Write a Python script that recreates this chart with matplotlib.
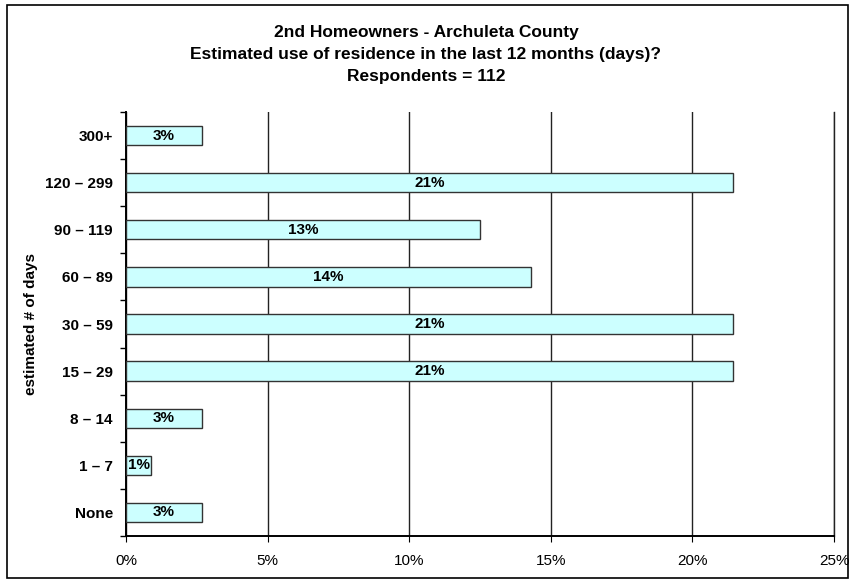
import matplotlib
matplotlib.use("Agg")
import matplotlib.pyplot as plt
from matplotlib.ticker import FixedLocator, FuncFormatter
import numpy as np

plt.rcParams['font.family'] = ['Liberation Sans', 'DejaVu Sans']

categories = ["None", "1 \u2013 7", "8 \u2013 14", "15 \u2013 29", "30 \u2013 59",
              "60 \u2013 89", "90 \u2013 119", "120 \u2013 299", "300+"]
percent_values = [2.68, 0.89, 2.68, 21.43, 21.43, 14.29, 12.50, 21.43, 2.68]
bar_labels = ["3%", "1%", "3%", "21%", "21%", "14%", "13%", "21%", "3%"]
x_ticks = [0, 5, 10, 15, 20, 25]

title_lines = ["2nd Homeowners - Archuleta County",
               "Estimated use of residence in the last 12 months (days)?",
               "Respondents = 112"]

W, H = 852, 580
fig = plt.figure(figsize=(W/100, H/100), dpi=100)
ax = fig.add_axes([126/W, 1-536/H, (834-126)/W, (536-112)/H])

y = np.arange(len(categories))
ax.barh(y, percent_values, height=0.41, color="#CCFFFF", edgecolor="#333333",
        linewidth=1.0, zorder=3)
for yi, v, lab in zip(y, percent_values, bar_labels):
    ax.text(v/2, yi, lab, ha="center", va="center", fontsize=11,
            fontweight="bold", zorder=4)

ax.set_xlim(0, 25)
ax.set_ylim(-0.5, len(categories)-0.5)
ax.set_xticks(x_ticks)
ax.xaxis.set_major_formatter(FuncFormatter(lambda v, p: f"{v:.0f}%"))
ax.xaxis.grid(True, color="#222222", linewidth=1.0, zorder=0)
ax.set_yticks(y)
ax.set_yticklabels(categories, fontweight="bold", fontsize=11)
ax.yaxis.set_minor_locator(FixedLocator(np.arange(-0.5, len(categories), 1.0)))
ax.tick_params(axis="y", which="major", length=0, pad=9.5)
ax.tick_params(axis="y", which="minor", length=4, direction="out", width=1)
ax.tick_params(axis="x", length=4, direction="out", labelsize=11, pad=9)
ax.spines["top"].set_visible(False)
ax.spines["right"].set_color("#222222")
ax.spines["right"].set_linewidth(1.0)
for s in ["left", "bottom"]:
    ax.spines[s].set_linewidth(1.4)

ax.set_ylabel("estimated # of days", fontweight="bold", fontsize=11)
ax.yaxis.set_label_coords(-(126-38)/708, 0.5)

for line, yc in zip(title_lines, [32.5, 54, 76]):
    fig.text(0.5, 1-yc/H, line, ha="center", va="center", fontsize=12.5,
             fontweight="bold")

fig.patches.append(plt.Rectangle((7/W, 2/H), (848-7)/W, (575-2)/H,
                                 transform=fig.transFigure, fill=False,
                                 edgecolor="black", linewidth=1.2))

fig.savefig("out.png", dpi=100)
